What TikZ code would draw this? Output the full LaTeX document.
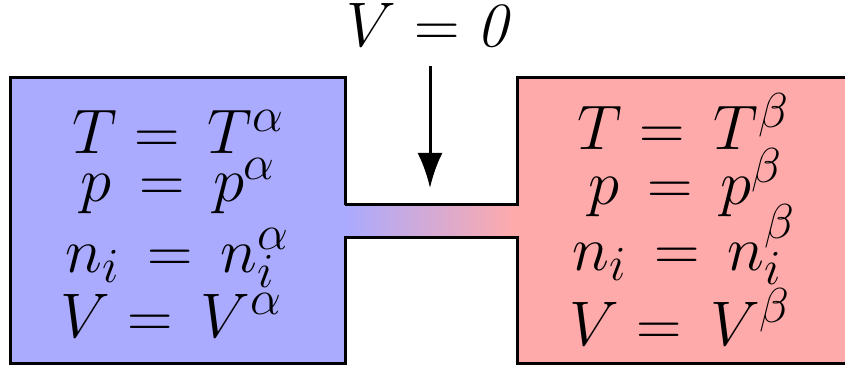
\documentclass[tikz,border=0pt]{standalone}
\usepackage{fix-cm}
\usepackage{amsmath}
\usetikzlibrary{arrows.meta}
\definecolor{phaseblue}{HTML}{AAAAFF}
\definecolor{phasepink}{HTML}{FFAAAA}
\DeclareMathSizes{63}{63}{49}{37}

\begin{document}
\begin{tikzpicture}[
    x=1pt, y=-1pt,
    wall/.style={draw=black, line width=3pt, line join=miter},
    eqline/.style={anchor=base, inner sep=0pt, font=\fontsize{63}{70}\selectfont},
    arr/.style={-{Latex[length=35pt, width=25pt]}, line width=3pt},
]
    \useasboundingbox (0,0) rectangle (845,371);

    % the two phases and the tube between them
    \fill[phaseblue] (10,78) rectangle (345,363);
    \fill[phasepink] (517,78) rectangle (860,363);
    \shade[left color=phaseblue, right color=phasepink] (345,205) rectangle (517,238);
    \draw[wall] (345,205) -- (345,78) -- (10,78) -- (10,363) -- (345,363) -- (345,238)
        -- (517,238) -- (517,363) -- (860,363)
        (860,78) -- (517,78) -- (517,205) -- (345,205);

    % phase alpha
    \node[eqline] (talpha) at (178,154) {$T = \,T^{\alpha}$};
    \node[eqline] (palpha) at (178,202) {$p \,=\, p^{\alpha}$};
    \node[eqline] (nalpha) at (177,272) {$n_i \,=\, n_i^{\alpha}$};
    \node[eqline] (valpha) at (171,337) {$V = \,V^{\alpha}$};

    % phase beta
    \node[eqline] (tbeta) at (683,150) {$T = \,T^{\beta}$};
    \node[eqline] (pbeta) at (685,205) {$p \,=\, p^{\beta}$};
    \node[eqline] (nbeta) at (684,270) {$n_i \,=\, n_i^{\beta}$};
    \node[eqline] (vbeta) at (680,345) {$V = \,V^{\beta}$};

    \node[eqline] (vlabel) at (432,47) {$V = \mathit{0}$};
    \coordinate (tubemouth) at (430,188);
    \draw[arr, shorten <=19pt] (vlabel.south -| tubemouth) -- (tubemouth);
\end{tikzpicture}
\end{document}
